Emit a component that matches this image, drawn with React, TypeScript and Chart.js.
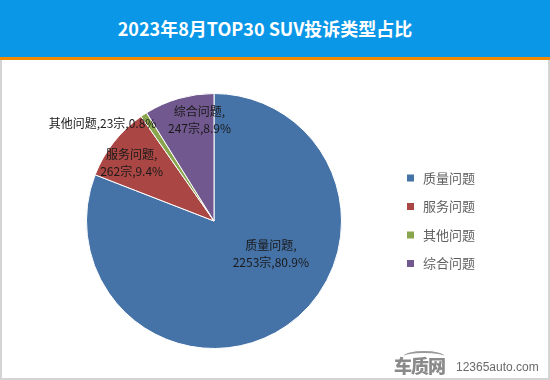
import React, { useEffect, useRef } from "react";
import { Chart, registerables } from "chart.js";

Chart.register(...registerables);

const categories = ["质量问题", "服务问题", "其他问题", "综合问题"];
const counts = [2253, 262, 23, 247];
const percents = ["80.9%", "9.4%", "0.8%", "8.9%"];
const colors = ["#4572A7", "#AA4643", "#89A54E", "#71588F"];

// label layout: angle shift (deg) from slice middle, radius factor, split into two lines
const labelLayout = [
  { shift: -25.6, r: 0.515, twoLines: true },
  { shift: -3, r: 0.79, twoLines: true },
  { shift: -15.5, r: 1.16, twoLines: false },
  { shift: 7.8, r: 0.8, twoLines: true },
];

const FONT = "'Noto Sans CJK SC', 'Noto Sans', sans-serif";

const labelPlugin = {
  id: "sliceLabels",
  afterDatasetsDraw(chart: any) {
    const ctx = chart.ctx;
    const meta = chart.getDatasetMeta(0);
    ctx.save();
    ctx.font = `12px ${FONT}`;
    ctx.fillStyle = "#1a1a1a";
    ctx.textAlign = "center";
    ctx.textBaseline = "middle";
    meta.data.forEach((arc: any, i: number) => {
      const p = arc.getProps(["x", "y", "startAngle", "endAngle", "outerRadius"], true);
      const lay = labelLayout[i];
      const a = (p.startAngle + p.endAngle) / 2 + (lay.shift * Math.PI) / 180;
      const cx = p.x + Math.cos(a) * p.outerRadius * lay.r;
      const cy = p.y + Math.sin(a) * p.outerRadius * lay.r;
      const l1 = categories[i] + ",";
      const l2 = counts[i] + "宗," + percents[i];
      if (lay.twoLines) {
        ctx.fillText(l1, cx, cy - 8.5);
        ctx.fillText(l2, cx, cy + 8.5);
      } else {
        ctx.fillText(l1 + l2, cx, cy);
      }
    });
    ctx.restore();
  },
};

const legendPlugin = {
  id: "sideLegend",
  afterDraw(chart: any) {
    const ctx = chart.ctx;
    const labels = chart.data.labels as string[];
    const bg = chart.data.datasets[0].backgroundColor as string[];
    ctx.save();
    ctx.font = `13px ${FONT}`;
    ctx.textAlign = "left";
    ctx.textBaseline = "middle";
    labels.forEach((lab, i) => {
      const y = 118 + i * 28.5;
      ctx.fillStyle = bg[i];
      ctx.fillRect(407, y - 3.5, 7, 7);
      ctx.fillStyle = "#5f5f5f";
      ctx.fillText(lab, 423, y);
    });
    ctx.restore();
  },
};

export default function App() {
  const ref = useRef<HTMLCanvasElement | null>(null);
  useEffect(() => {
    if (!ref.current) return;
    const chart = new Chart(ref.current, {
      type: "pie",
      data: {
        labels: categories,
        datasets: [
          {
            data: counts,
            backgroundColor: colors,
            borderColor: "#ffffff",
            borderWidth: 1,
          },
        ],
      },
      options: {
        responsive: false,
        animation: false,
        devicePixelRatio: 1,
        layout: { padding: { left: 86, right: 208, top: 33, bottom: 31 } },
        plugins: {
          legend: { display: false },
          tooltip: { enabled: false },
          title: { display: false },
        },
      },
      plugins: [labelPlugin, legendPlugin],
    });
    return () => chart.destroy();
  }, []);

  return (
    <div
      style={{
        position: "absolute",
        left: 0,
        top: 0,
        width: 550,
        height: 380,
        overflow: "hidden",
        background: "#ffffff",
        fontFamily: FONT,
      }}
    >
      <div
        style={{
          height: 57,
          background: "#0B97E7",
          color: "#ffffff",
          fontWeight: 700,
          fontSize: 18,
          lineHeight: "57px",
          textAlign: "center",
          paddingRight: 20,
        }}
      >
        2023年8月TOP30 SUV投诉类型占比
      </div>
      <div style={{ height: 3, background: "#F18A00" }} />
      <div
        style={{
          position: "absolute",
          top: 60,
          left: 0,
          width: 550,
          height: 320,
          boxSizing: "border-box",
          borderLeft: "2px solid #D4D4D4",
          borderRight: "2px solid #D4D4D4",
          borderBottom: "2px solid #D4D4D4",
        }}
      />
      <canvas
        ref={ref}
        width={550}
        height={320}
        style={{ position: "absolute", top: 60, left: 0, width: 550, height: 320 }}
      />
      <div
        style={{
          position: "absolute",
          left: 404,
          top: 351,
          width: 40,
          height: 10,
          boxSizing: "border-box",
          borderTop: "2px solid #9a9a9a",
          borderRadius: "50% 50% 0 0",
        }}
      />
      <div
        style={{
          position: "absolute",
          left: 394,
          top: 356,
          fontSize: 18,
          fontWeight: 900,
          color: "#8a8a8a",
          lineHeight: "18px",
          letterSpacing: -1,
        }}
      >
        车质网
      </div>
      <div
        style={{
          position: "absolute",
          left: 456,
          top: 360,
          fontSize: 12,
          color: "#6a6a6a",
          lineHeight: "14px",
          fontFamily: "'Liberation Sans', Arial, sans-serif",
        }}
      >
        12365auto.com
      </div>
    </div>
  );
}
